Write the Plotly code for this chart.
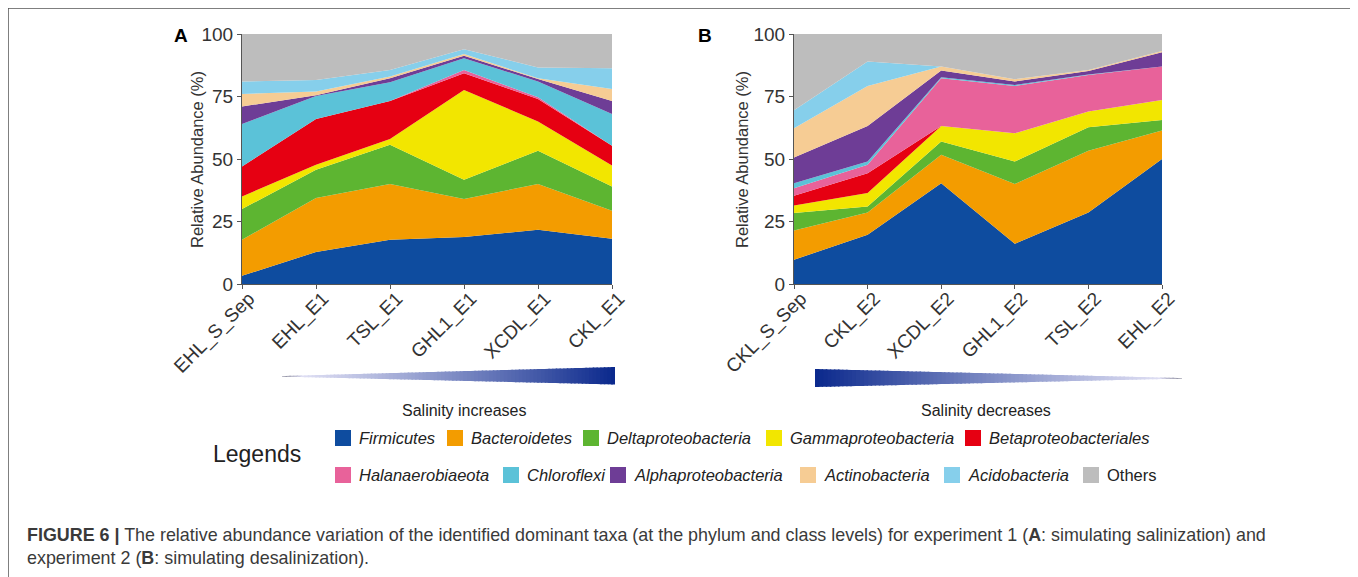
import plotly.graph_objects as go

# page is offset by the 8px default body margin, so figure is 8px smaller
W, H = 1350, 569
OFF = 8
FONT = "Arial, 'Liberation Sans', Helvetica, sans-serif"

# ---------------- data ----------------
taxa = ["Firmicutes", "Bacteroidetes", "Deltaproteobacteria", "Gammaproteobacteria",
        "Betaproteobacteriales", "Halanaerobiaeota", "Chloroflexi", "Alphaproteobacteria",
        "Actinobacteria", "Acidobacteria", "Others"]
colors = ["#0E4C9F", "#F39C00", "#5DB531", "#F2E600", "#E60012", "#E8629A",
          "#5BC2D8", "#6E3D96", "#F6CC94", "#86CFEB", "#BDBDBD"]

samples_a = ["EHL_S_Sep", "EHL_E1", "TSL_E1", "GHL1_E1", "XCDL_E1", "CKL_E1"]
samples_b = ["CKL_S_Sep", "CKL_E2", "XCDL_E2", "GHL1_E2", "TSL_E2", "EHL_E2"]

# Experiment 1 (A) relative abundance, %
firmicutes_a = [3.3, 12.8, 17.7, 18.8, 21.7, 18.1]
bacteroidetes_a = [14.4, 21.6, 22.3, 15.2, 18.3, 11.2]
delta_a = [12.3, 11.3, 15.7, 7.7, 13.3, 9.7]
gamma_a = [5.0, 2.0, 2.3, 35.9, 11.7, 8.4]
beta_a = [12.0, 18.3, 15.2, 6.7, 9.0, 7.9]
halan_a = [0.0, 0.0, 0.0, 1.3, 0.7, 0.0]
chloroflexi_a = [17.0, 9.2, 7.5, 4.7, 6.3, 12.7]
alpha_a = [7.0, 0.3, 1.6, 1.0, 1.0, 5.2]
actino_a = [5.0, 1.5, 0.7, 0.7, 0.3, 4.8]
acido_a = [5.0, 4.6, 2.6, 1.9, 4.3, 8.3]
others_a = [19.0, 18.4, 14.4, 6.1, 13.4, 13.7]

# Experiment 2 (B) relative abundance, %
firmicutes_b = [9.7, 19.7, 40.3, 16.1, 28.6, 50.0]
bacteroidetes_b = [11.7, 8.9, 11.4, 23.9, 24.7, 11.4]
delta_b = [7.0, 2.4, 5.3, 9.0, 9.4, 4.2]
gamma_b = [3.0, 5.4, 6.2, 11.3, 6.3, 8.0]
beta_b = [3.9, 7.9, 0.0, 0.0, 0.0, 0.0]
halan_b = [3.0, 3.4, 19.1, 18.9, 14.6, 13.4]
chloroflexi_b = [2.0, 1.3, 0.4, 0.4, 0.2, 0.0]
alpha_b = [10.3, 14.2, 2.7, 1.4, 1.4, 5.7]
actino_b = [11.7, 16.0, 1.6, 0.9, 0.4, 0.5]
acido_b = [7.2, 9.8, 0.0, 0.0, 0.0, 0.0]
others_b = [30.5, 11.0, 13.0, 18.1, 14.4, 6.8]

series_a = [firmicutes_a, bacteroidetes_a, delta_a, gamma_a, beta_a, halan_a,
            chloroflexi_a, alpha_a, actino_a, acido_a, others_a]
series_b = [firmicutes_b, bacteroidetes_b, delta_b, gamma_b, beta_b, halan_b,
            chloroflexi_b, alpha_b, actino_b, acido_b, others_b]

y_ticks = [0, 25, 50, 75, 100]

# ---------------- figure ----------------
fig = go.Figure()
for name, col, ya in zip(taxa, colors, series_a):
    fig.add_trace(go.Scatter(x=samples_a, y=ya, name=name, mode="lines",
                             stackgroup="A", line=dict(width=0, color=col),
                             fillcolor=col, xaxis="x", yaxis="y", showlegend=False))
for name, col, yb in zip(taxa, colors, series_b):
    fig.add_trace(go.Scatter(x=samples_b, y=yb, name=name, mode="lines",
                             stackgroup="B", line=dict(width=0, color=col),
                             fillcolor=col, xaxis="x2", yaxis="y2", showlegend=False))

def px(x):
    return (x - OFF) / W

def py(y):
    return 1 - (y - OFF) / H

TICKFONT = dict(family=FONT, size=19, color="#333333")
xax = dict(type="category", range=[0, 5], showline=True, linecolor="#555555", linewidth=1,
           ticks="outside", ticklen=4, tickcolor="#555555", tickangle=-45,
           tickfont=TICKFONT, showgrid=False, zeroline=False, fixedrange=True,
           automargin=False, ticklabelstandoff=-9, ticklabelshift=7)
yax = dict(range=[0, 100], tickvals=y_ticks, showline=True, linecolor="#555555", linewidth=1,
           ticks="outside", ticklen=4, tickcolor="#555555", tickfont=TICKFONT,
           showgrid=False, zeroline=False, fixedrange=True, automargin=False)

fig.update_layout(
    width=W, height=H, margin=dict(l=0, r=0, t=0, b=0, autoexpand=False),
    paper_bgcolor="white", plot_bgcolor="white", showlegend=False,
    font=dict(family=FONT, color="#333333"),
    xaxis=dict(xax, domain=[px(242), px(612)], anchor="y"),
    yaxis=dict(yax, domain=[py(284), py(34)], anchor="x"),
    xaxis2=dict(xax, domain=[px(794), px(1162)], anchor="y2"),
    yaxis2=dict(yax, domain=[py(284), py(34)], anchor="x2"),
)

shapes = []
annotations = []

# frame
shapes.append(dict(type="rect", xref="paper", yref="paper", x0=px(8), x1=px(1355),
                   y0=-0.05, y1=py(8), line=dict(color="#555555", width=1.5),
                   fillcolor="rgba(0,0,0,0)", layer="below"))

# panel letters and y titles
for letter, lx, tx in [("A", 181, 197), ("B", 705, 742)]:
    annotations.append(dict(text="<b>%s</b>" % letter, x=px(lx), y=py(36), xref="paper", yref="paper",
                            showarrow=False, xanchor="center", yanchor="middle",
                            font=dict(family=FONT, size=19, color="#000000")))
    annotations.append(dict(text="Relative Abundance (%)", x=px(tx), y=py(160), xref="paper",
                            yref="paper", showarrow=False, textangle=-90, xanchor="center",
                            yanchor="middle", font=dict(family=FONT, size=16.5, color="#333333")))

# gradient wedges
def lerp(a, b, t):
    return a + (b - a) * t

def wedge_color(t):
    # t = 0 at thin tip, 1 at thick end
    if t < 0.06:
        s = t / 0.06
        c0, c1 = (120, 120, 140), (222, 222, 243)
    else:
        s = ((t - 0.06) / 0.94) ** 1.1
        c0, c1 = (222, 222, 243), (10, 40, 140)
    return "rgb(%d,%d,%d)" % tuple(round(lerp(a, b, s)) for a, b in zip(c0, c1))

def wedge(x_tip, y_tip, x_end, y_top, y_bot, n=90):
    for i in range(n):
        t0, t1 = i / n, (i + 1) / n
        xa, xb = lerp(x_tip, x_end, t0), lerp(x_tip, x_end, min(1.0, t1 + 0.004))
        ta, tb = lerp(y_tip, y_top, t0), lerp(y_tip, y_top, t1)
        ba, bb = lerp(y_tip + 0.6, y_bot, t0), lerp(y_tip + 0.6, y_bot, t1)
        path = "M %f,%f L %f,%f L %f,%f L %f,%f Z" % (px(xa), py(ta), px(xb), py(tb),
                                                     px(xb), py(bb), px(xa), py(ba))
        shapes.append(dict(type="path", xref="paper", yref="paper", path=path,
                           fillcolor=wedge_color((t0 + t1) / 2), line=dict(width=0)))

wedge(282, 376, 615, 367, 384.5)
wedge(1182, 378, 815, 369, 387)

annotations.append(dict(text="Salinity increases", x=px(464), y=py(410), xref="paper", yref="paper",
                        showarrow=False, xanchor="center", yanchor="middle",
                        font=dict(family=FONT, size=16, color="#222222")))
annotations.append(dict(text="Salinity decreases", x=px(986), y=py(410), xref="paper", yref="paper",
                        showarrow=False, xanchor="center", yanchor="middle",
                        font=dict(family=FONT, size=16, color="#222222")))

# custom legend
annotations.append(dict(text="Legends", x=px(211), y=py(454), xref="paper", yref="paper",
                        showarrow=False, xanchor="left", yanchor="middle",
                        font=dict(family=FONT, size=23, color="#222222")))
legend_rows = [(438, [0, 1, 2, 3, 4], [335, 447, 583, 766, 965]),
               (475, [5, 6, 7, 8, 9, 10], [335, 503, 610, 800, 944, 1083])]
for ly, idxs, xs in legend_rows:
    for k, x0 in zip(idxs, xs):
        shapes.append(dict(type="rect", xref="paper", yref="paper", x0=px(x0), x1=px(x0 + 16),
                           y0=py(ly + 8), y1=py(ly - 8), fillcolor=colors[k], line=dict(width=0)))
        label = taxa[k] if taxa[k] == "Others" else "<i>%s</i>" % taxa[k]
        annotations.append(dict(text=label, x=px(x0 + 22), y=py(ly), xref="paper", yref="paper",
                                showarrow=False, xanchor="left", yanchor="middle",
                                font=dict(family=FONT, size=16.5, color="#222222")))

# caption
caption = ("<b>FIGURE 6 |</b> The relative abundance variation of the identified dominant taxa "
           "(at the phylum and class levels) for experiment 1 (<b>A</b>: simulating salinization) and"
           "<br>experiment 2 (<b>B</b>: simulating desalinization).")
annotations.append(dict(text=caption, x=px(25), y=py(546), xref="paper", yref="paper",
                        showarrow=False, xanchor="left", yanchor="middle", align="left",
                        font=dict(family=FONT, size=17.9, color="#3a3a3a")))

fig.update_layout(shapes=shapes, annotations=annotations)
fig.write_html("out.html")
